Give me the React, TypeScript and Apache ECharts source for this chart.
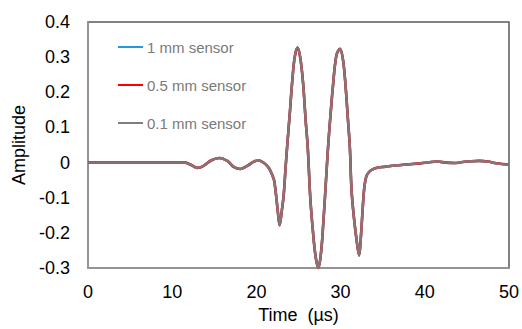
import React, { useEffect, useRef } from "react";
import * as echarts from "echarts";

// Time base of the recorded waveform (µs)
const timeUs = [
  0, 5, 10, 11.5, 12.2, 13.0, 13.8, 14.6, 15.6, 16.6, 17.3, 18.1, 19.0, 19.7, 20.3,
  20.7, 21.1, 21.5, 21.9, 22.1, 22.3, 22.55, 22.76, 23.0, 23.25, 23.45, 23.65, 24.0,
  24.25, 24.55, 24.88, 25.2, 25.55, 25.85, 26.1, 26.4, 26.75, 27.05, 27.36, 27.7,
  27.95, 28.15, 28.5, 28.75, 29.1, 29.5, 29.92, 30.3, 30.6, 30.85, 31.1, 31.3, 31.6,
  31.9, 32.2, 32.4, 32.6, 32.8, 33.05, 33.4, 33.8, 34.5, 35.2, 36.5, 38.0, 39.5, 40.5,
  41.5, 42.5, 43.5, 44.5, 45.5, 46.5, 47.5, 48.5, 50,
];

// Amplitude picked up by the sensors (the three sensor sizes overlap)
const amplitude = [
  0, 0, 0, 0, -0.006, -0.015, -0.008, 0.006, 0.013, 0.004, -0.012, -0.018, -0.008, 0.003, 0.006,
  0.002, -0.005, -0.016, -0.036, -0.05, -0.085, -0.14, -0.178, -0.14, -0.09, -0.02, 0.045, 0.15,
  0.23, 0.3, 0.327, 0.3, 0.225, 0.12, 0.043, -0.1, -0.205, -0.27, -0.3, -0.25,
  -0.17, -0.096, 0.04, 0.12, 0.22, 0.305, 0.324, 0.29, 0.215, 0.13, 0.043, -0.078, -0.16,
  -0.22, -0.264, -0.215, -0.14, -0.075, -0.04, -0.026, -0.019, -0.014, -0.012, -0.008, -0.005, -0.002, 0.001,
  0.003, 0.0, -0.001, 0.002, 0.004, 0.005, 0.003, -0.002, -0.006,
];

const sensorNames = ["1 mm sensor", "0.5 mm sensor", "0.1 mm sensor"];
const sensorColors = ["#1f9ddb", "#ff0000", "#7f7f7f"];

const xTicks = { min: 0, max: 50, interval: 10 };
const yTicks = { min: -0.3, max: 0.4, interval: 0.1 };

const FONT = "'Liberation Sans', Arial, sans-serif";

export default function App() {
  const ref = useRef<HTMLDivElement>(null);

  useEffect(() => {
    if (!ref.current) return;
    const chart = echarts.init(ref.current, undefined, { renderer: "svg" });
    const points = timeUs.map((t, i) => [t, amplitude[i]]);

    chart.setOption({
      animation: false,
      backgroundColor: "#ffffff",
      textStyle: { fontFamily: FONT },
      grid: {
        left: 88,
        right: 10,
        top: 22,
        bottom: 56,
        show: true,
        borderColor: "#5a5a5a",
        borderWidth: 1.5,
        backgroundColor: "transparent",
      },
      legend: {
        data: sensorNames,
        orient: "vertical",
        left: 118,
        top: 38,
        padding: 0,
        icon: "rect",
        itemWidth: 25,
        itemHeight: 2,
        itemGap: 20,
        selectedMode: false,
        textStyle: {
          fontFamily: FONT,
          fontSize: 15,
          lineHeight: 18,
          color: "#7a7a7a",
          padding: [0, 0, 0, -1],
        },
      },
      xAxis: {
        type: "value",
        min: xTicks.min,
        max: xTicks.max,
        interval: xTicks.interval,
        name: "Time  (µs)",
        nameLocation: "middle",
        nameGap: 37,
        nameTextStyle: { fontFamily: FONT, fontSize: 18, color: "#000" },
        axisLine: { show: true, onZero: false, lineStyle: { color: "#9a9a9a", width: 1.5 } },
        axisTick: { show: false },
        splitLine: { show: false },
        axisLabel: {
          fontFamily: FONT,
          fontSize: 18,
          color: "#000",
          margin: 15,
        },
      },
      yAxis: {
        type: "value",
        min: yTicks.min,
        max: yTicks.max,
        interval: yTicks.interval,
        name: "Amplitude",
        nameLocation: "middle",
        nameGap: 60,
        nameTextStyle: { fontFamily: FONT, fontSize: 18, color: "#000" },
        axisLine: { show: true, onZero: false, lineStyle: { color: "#9a9a9a", width: 1.5 } },
        axisTick: { show: false },
        splitLine: { show: false },
        axisLabel: {
          fontFamily: FONT,
          fontSize: 18,
          color: "#000",
          margin: 18,
          formatter: (v: number) => String(Number(v.toFixed(1))),
        },
      },
      series: sensorNames.map((name, i) => ({
        name,
        type: "line",
        data: points,
        showSymbol: false,
        symbol: "none",
        smooth: 0.35,
        color: sensorColors[i],
        lineStyle: {
          color: sensorColors[i],
          width: i === 2 ? 2.4 : 2.6,
          opacity: i === 2 ? 0.9 : 1,
        },
        z: 2 + i,
      })),
    });

    return () => chart.dispose();
  }, []);

  return (
    <div
      ref={ref}
      style={{ position: "fixed", left: 0, top: 0, width: 522, height: 329 }}
    />
  );
}
